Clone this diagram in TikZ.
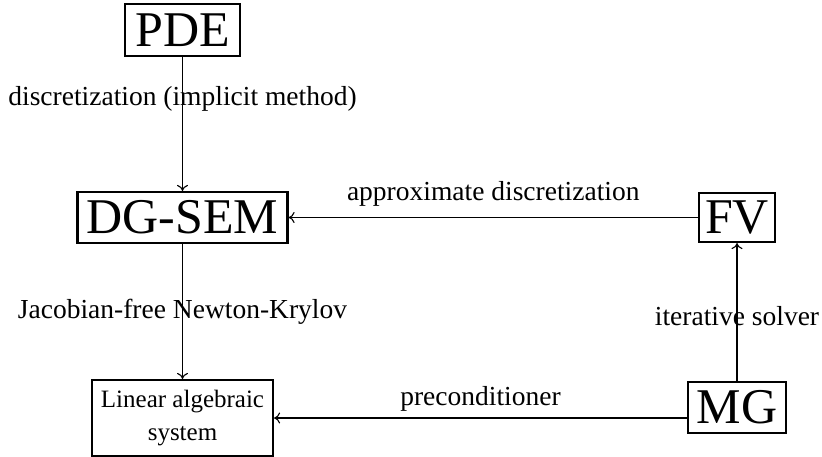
\documentclass[tikz,border=0pt]{standalone}
\usepackage{fontspec}
\setmainfont{Liberation Serif}
\usetikzlibrary{arrows.meta}
\begin{document}
\begin{tikzpicture}[x=1pt,y=-1pt,
  bigbox/.style={draw,line width=2.2pt,inner sep=0pt,font=\fontsize{50}{55}\selectfont},
  smallbox/.style={draw,line width=2.2pt,inner sep=0pt,align=center,font=\fontsize{25}{33}\selectfont},
  conn/.style={line width=1.1pt,-{To[length=6pt,width=11pt]}},
  lbl/.style={font=\fontsize{27.5}{30}\selectfont,inner sep=0pt}]
\useasboundingbox (0,0) rectangle (822,457);
\node[bigbox,minimum width=115pt,minimum height=52pt] (pde) at (182.5,30) {PDE};
\node[bigbox,minimum width=210pt,minimum height=51pt] (dg) at (182.5,217.5) {DG-SEM};
\node[bigbox,minimum width=76pt,minimum height=49pt] (fv) at (737,217.5) {FV};
\node[bigbox,minimum width=98pt,minimum height=51pt] (mg) at (737,407.5) {MG};
\node[smallbox,minimum width=181pt,minimum height=76pt] (lin) at (182.5,418) {Linear algebraic\\system};
\draw[conn] (pde.south) -- (dg.north)
  node[lbl,pos=0.31] (l1) {discretization (implicit method)};
\draw[conn] (dg.south) -- (lin.north)
  node[lbl,midway] (l2) {Jacobian-free Newton-Krylov};
\draw[conn] (fv.west) -- (dg.east)
  node[lbl,midway,above=11pt] (l3) {approximate discretization};
\draw[conn] (mg.west |- lin.east) -- (lin.east)
  node[lbl,midway,above=6pt] (l4) {preconditioner};
\draw[conn] (mg.north) -- (fv.south)
  node[lbl,pos=0.47] (l5) {iterative solver};
\end{tikzpicture}
\end{document}
